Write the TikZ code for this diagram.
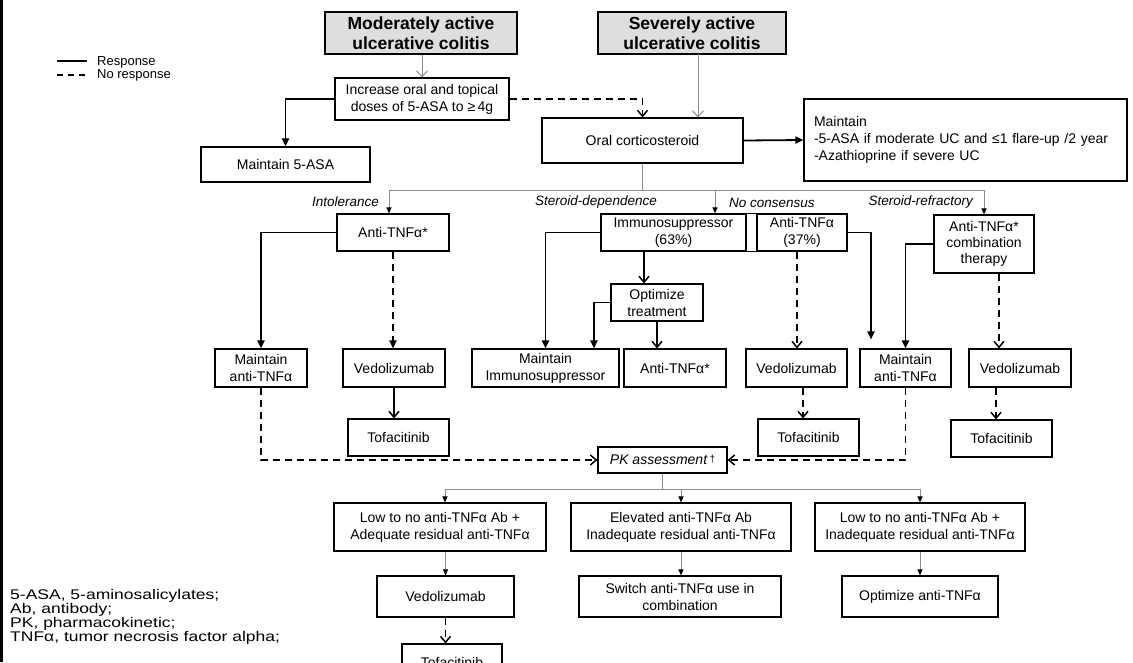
\documentclass[tikz,border=0pt]{standalone}
\usepackage{fontspec}
\setmainfont{Liberation Sans}
\newfontfamily\widefont[FakeStretch=1.25]{Liberation Sans}
\usetikzlibrary{arrows.meta}
\definecolor{hdr}{HTML}{DEDEDE}
\definecolor{conn}{HTML}{8C8C8C}
\tikzset{
 box/.style={draw=black, line width=1.1pt, inner sep=0pt, align=center, font=\fontsize{14}{17}\selectfont},
 hdrbox/.style={box, fill=hdr, line width=1.4pt, font=\bfseries\fontsize{17.5}{20}\selectfont},
 resp/.style={line width=1.8pt, -{Triangle[length=8pt,width=7pt]}},
 respopen/.style={line width=1.8pt, -{Straight Barb[length=6pt,width=10pt,line width=1.5pt]}},
 noresp/.style={line width=1.8pt, dash pattern=on 7pt off 5pt, -{Straight Barb[length=6pt,width=10pt,line width=1.5pt]}},
 norespfill/.style={line width=1.8pt, dash pattern=on 7pt off 5pt, -{Triangle[length=8pt,width=7pt]}},
 grayline/.style={draw=conn, line width=1pt},
 grayarr/.style={grayline, -{Triangle[length=6pt,width=5pt,color=black,fill=black]}},
 grayopen/.style={grayline, -{Straight Barb[length=6pt,width=11pt]}},
 lbl/.style={font=\itshape\fontsize{13.5}{16}\selectfont, inner sep=0pt},
 legtext/.style={anchor=west, inner sep=0pt, font=\fontsize{13}{15}\selectfont},
}
\begin{document}
\begin{tikzpicture}[x=1pt,y=-1pt]
\clip (0,0) rectangle (1133,662);
\fill[white] (0,0) rectangle (1133,662);
\draw[line width=3pt] (1.5,0) -- (1.5,662);

% legend
\coordinate (lgAa) at (57,61); \coordinate (lgAb) at (87,61);
\coordinate (lgBa) at (57,75); \coordinate (lgBb) at (87,75);
\draw[line width=1.6pt] (lgAa) -- (lgAb);
\draw[line width=1.6pt, dash pattern=on 6pt off 5pt] (lgBa) -- (lgBb);
\node[legtext] (lgR) at (97,62) {Response};
\node[legtext] (lgN) at (97,75) {No response};

% headers
\node[hdrbox, minimum width=192, minimum height=42] (mod) at (421,33) {Moderately active\\ulcerative colitis};
\node[hdrbox, minimum width=188, minimum height=42] (sev) at (692,33) {Severely active\\ulcerative colitis};

% top boxes
\node[box, minimum width=174, minimum height=42] (inc) at (422,99) {Increase oral and topical\\doses of 5-ASA to ≥\,4g};
\node[box, minimum width=169, minimum height=35] (m5asa) at (285.5,164.5) {Maintain 5-ASA};
\node[box, minimum width=201, minimum height=45] (oral) at (642.5,140.5) {Oral corticosteroid};
\node[box, text width=303, align=left, inner xsep=10pt, minimum height=82] (mright) at (965.5,140) {Maintain\\-5-ASA if moderate UC and ≤1 flare-up /2 year\\-Azathioprine if severe UC};

% row 2
\node[box, minimum width=112, minimum height=37] (anti1) at (393,232.5) {Anti-TNFα*};
\node[box, minimum width=145, minimum height=37] (imm) at (673.5,232.5) {Immunosuppressor\\(63\%)};
\node[box, minimum width=90, minimum height=37] (a37) at (802,232.5) {Anti-TNFα\\(37\%)};
\draw[line width=1.1pt] (imm.north east) -- (a37.north west);
\draw[line width=1.1pt] (imm.south east) -- (a37.south west);
\node[box, minimum width=100, minimum height=58, font=\fontsize{14}{16}\selectfont] (combo) at (984,244) {Anti-TNFα*\\combination\\therapy};
\node[box, minimum width=92, minimum height=37] (opt) at (657,302.5) {Optimize\\treatment};

% row 4
\node[box, minimum width=92, minimum height=38] (mant1) at (261,368) {Maintain\\anti-TNFα};
\node[box, minimum width=102, minimum height=38] (ved1) at (394,368) {Vedolizumab};
\node[box, minimum width=147, minimum height=38] (mi) at (545.5,368) {Maintain\\Immunosuppressor};
\node[box, minimum width=102, minimum height=38] (anti2) at (675,368) {Anti-TNFα*};
\node[box, minimum width=101, minimum height=38] (ved2) at (796.5,368) {Vedolizumab};
\node[box, minimum width=91, minimum height=38] (mant2) at (905.5,368) {Maintain\\anti-TNFα};
\node[box, minimum width=102, minimum height=38] (ved3) at (1020,368) {Vedolizumab};

% row 5
\node[box, minimum width=101, minimum height=37] (tof1) at (398.5,437.5) {Tofacitinib};
\node[box, minimum width=101, minimum height=37] (tof2) at (808.5,437.5) {Tofacitinib};
\node[box, minimum width=101, minimum height=37] (tof3) at (1001.5,438.5) {Tofacitinib};
\node[box, minimum width=129, minimum height=26, font=\itshape\fontsize{14}{17}\selectfont] (pk) at (662.5,460) {PK assessment\,{\upshape\raisebox{2pt}{\fontsize{10}{10}\selectfont †}}};

% bottom
\node[box, minimum width=212, minimum height=48] (b1) at (440,527) {Low to no anti-TNFα Ab +\\Adequate residual anti-TNFα};
\node[box, minimum width=220, minimum height=48] (b2) at (681,527) {Elevated anti-TNFα Ab\\Inadequate residual anti-TNFα};
\node[box, minimum width=210, minimum height=48] (b3) at (920,527) {Low to no anti-TNFα Ab +\\Inadequate residual anti-TNFα};
\node[box, minimum width=137, minimum height=41] (bved) at (445.5,596.5) {Vedolizumab};
\node[box, minimum width=202, minimum height=41] (bsw) at (680,596.5) {Switch anti-TNFα use in\\combination};
\node[box, minimum width=156, minimum height=41] (bopt) at (920,596.5) {Optimize anti-TNFα};
\node[box, minimum width=100, minimum height=36] (btof) at (452,662) {Tofacitinib};

% abbreviations
\node[anchor=north west, align=left, inner sep=0pt, font=\widefont\fontsize{14}{12.5}\selectfont] (abbr) at (10,589) {5-ASA, 5-aminosalicylates;\\Ab, antibody;\\PK, pharmacokinetic;\\TNFα, tumor necrosis factor alpha;};

% labels
\node[lbl] (lInt) at (345.5,202) {Intolerance};
\node[lbl, anchor=east] (lDep) at (657,202) {Steroid-dependence};
\node[lbl, anchor=west] (lNoc) at (729,203) {No consensus};
\node[lbl, anchor=east] (lRef) at (973,202) {Steroid-refractory};

% top connectors
\draw[grayopen] (mod.south -| inc.north) -- (inc.north);
\coordinate (sevx) at (698,54);
\draw[grayopen] (sevx) -- (sevx |- oral.north);
\draw[noresp] (inc.east) -| (oral.north);
\draw[resp] (inc.west) -| (m5asa.north);
\draw[resp] (oral.east) -- (mright.west);

% gray split 1
\coordinate (s1) at (642.5,190);
\coordinate (t1l) at (389,190);
\coordinate (t1m) at (715,190);
\coordinate (t1r) at (984,190);
\draw[grayline] (oral.south) -- (s1);
\draw[grayline] (t1l) -- (t1r);
\draw[grayarr] (t1l) -- (t1l |- anti1.north);
\draw[grayarr] (t1m) -- (t1m |- imm.north);
\draw[grayarr] (t1r) -- (t1r |- combo.north);

% intolerance branch
\draw[resp] (anti1.west) -| (mant1.north);
\draw[norespfill] (anti1.south) -- (anti1.south |- ved1.north);
\draw[respopen] (ved1.south) -- (ved1.south |- tof1.north);

% dependence branch
\draw[resp] (imm.west) -| (mi.north);
\coordinate (c11) at ([xshift=-29.5pt]imm.south);
\draw[respopen] (c11) -- (c11 |- opt.north);
\coordinate (c12) at ([xshift=48.5pt]mi.north);
\draw[resp] (opt.west) -| (c12);
\draw[respopen] (opt.south) -- (opt.south |- anti2.north);
\coordinate (c14) at ([xshift=-5pt]a37.south);
\draw[noresp] (c14) -- (c14 |- ved2.north);
\coordinate (c15) at ([xshift=6.5pt]ved2.south);
\draw[noresp] (c15) -- (c15 |- tof2.north);
\coordinate (c16) at ([xshift=-34.5pt]mant2.north);
\draw[resp, shorten >=9pt] (a37.east) -| (c16);

% refractory branch
\draw[resp] (combo.west) -| (mant2.north);
\coordinate (c18) at ([xshift=15pt]combo.south);
\draw[noresp] (c18) -- (c18 |- ved3.north);
\coordinate (c19) at ([xshift=-24pt]ved3.south);
\draw[noresp] (c19) -- (c19 |- tof3.north);

% to PK
\draw[noresp] (mant1.south) |- (pk.west);
\draw[noresp] (mant2.south) |- (pk.east);

% bottom tree
\coordinate (s2) at (662.5,489);
\coordinate (t2l) at (445,489);
\coordinate (t2m) at (681,489);
\coordinate (t2r) at (920,489);
\draw[grayline] (pk.south) -- (s2);
\draw[grayline] (t2l) -- (t2r);
\draw[grayarr] (t2l) -- (t2l |- b1.north);
\draw[grayarr] (t2m) -- (t2m |- b2.north);
\draw[grayarr] (t2r) -- (t2r |- b3.north);
\draw[grayarr] (bved.north |- b1.south) -- (bved.north);
\draw[grayarr] (b2.south) -- (b2.south |- bsw.north);
\draw[grayarr] (b3.south) -- (b3.south |- bopt.north);
\draw[noresp] (bved.south) -- (bved.south |- btof.north);
\end{tikzpicture}
\end{document}
